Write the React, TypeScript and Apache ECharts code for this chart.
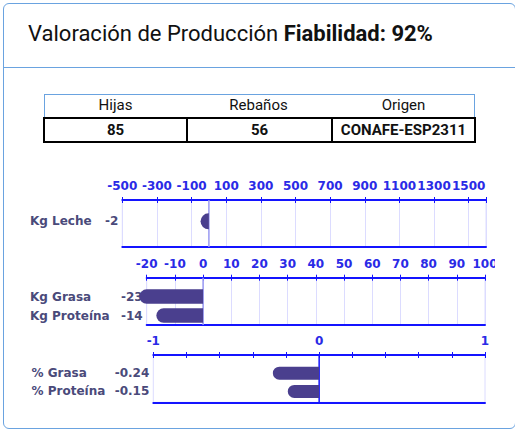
import React, { useEffect, useRef } from "react";
import * as echarts from "echarts";

// ---- data ----
const titleText = "Valoración de Producción ";
const titleBold = "Fiabilidad: 92%";
const tableHeaders = ["Hijas", "Rebaños", "Origen"];
const tableValues = ["85", "56", "CONAFE-ESP2311"];

const lecheNames = ["Kg Leche"];
const lecheValues = [-2];
const lecheMin = -500;
const lecheMax = 1600;
const lecheStep = 200;

const kgNames = ["Kg Grasa", "Kg Proteína"];
const kgValues = [-23, -14];
const kgMin = -20;
const kgMax = 100;
const kgStep = 10;

const pctNames = ["% Grasa", "% Proteína"];
const pctValues = [-0.24, -0.15];
const pctMin = -1;
const pctMax = 1;
const pctStep = 0.2;

// ---- style ----
const BLUE = "#1414ff";
const TICK_TEXT = "#2a2ae6";
const FAINT = "#dcdcff";
const BAR = "#4a3f8e";
const CAT_TEXT = "#4a4a7a";
const FONT = "DejaVu Sans";

const CHART_TOP = 150;

type Sec = {
  left: number;
  top: number;
  width: number;
  height: number;
  names: string[];
  values: number[];
  min: number;
  max: number;
  step: number;
  shift: number; // axis offset so min is a multiple of interval
  yMax: number;
  barH: number;
  split: boolean;
  zeroColor: string;
  nameMargin: number;
  labelFmt: (u: number) => string;
  valueFmt: (v: number) => string;
};

export default function App() {
  const ref = useRef<HTMLDivElement>(null);

  useEffect(() => {
    document.body.style.margin = "0";
    if (!ref.current) return;
    const chart = echarts.init(ref.current, undefined, { renderer: "svg" });

    const secs: Sec[] = [
      {
        left: 122.3,
        top: 200 - CHART_TOP,
        width: 363.7,
        height: 47,
        names: lecheNames,
        values: lecheValues,
        min: lecheMin,
        max: lecheMax,
        step: lecheStep,
        shift: -lecheMin,
        yMax: 1.2,
        barH: 16,
        split: true,
        zeroColor: "#9a9af2",
        nameMargin: 92.3,
        labelFmt: (u) => (u - 500 > 1500 ? "" : String(u - 500)),
        valueFmt: (v) => String(v),
      },
      {
        left: 146.7,
        top: 277.7 - CHART_TOP,
        width: 338.3,
        height: 47.3,
        names: kgNames,
        values: kgValues,
        min: kgMin,
        max: kgMax,
        step: kgStep,
        shift: 0,
        yMax: 1.5,
        barH: 14.5,
        split: true,
        zeroColor: "#9a9af2",
        nameMargin: 116.7,
        labelFmt: (u) => String(u),
        valueFmt: (v) => String(v),
      },
      {
        left: 153.3,
        top: 355 - CHART_TOP,
        width: 331.7,
        height: 47.3,
        names: pctNames,
        values: pctValues,
        min: pctMin,
        max: pctMax,
        step: pctStep,
        shift: 0,
        yMax: 1.6,
        barH: 13,
        split: false,
        zeroColor: BLUE,
        nameMargin: 121.8,
        labelFmt: (u) => (Math.abs(u - Math.round(u)) < 1e-9 ? String(Math.round(u)) : ""),
        valueFmt: (v) => v.toFixed(2),
      },
    ];

    const grid: any[] = [];
    const xAxis: any[] = [];
    const yAxis: any[] = [];
    const series: any[] = [];

    secs.forEach((s, i) => {
      grid.push({
        left: s.left,
        top: s.top,
        width: s.width,
        height: s.height,
        show: true,
        borderColor: FAINT,
        borderWidth: 1,
        backgroundColor: "transparent",
        containLabel: false,
        outerBoundsMode: "none",
      });
      const axMin = s.min + s.shift;
      const axMax = s.max + s.shift;
      const mainX = xAxis.length;
      // main top axis
      xAxis.push({
        type: "value",
        gridIndex: i,
        position: "top",
        min: axMin,
        max: axMax,
        interval: s.step,
        axisLine: { show: true, onZero: false, lineStyle: { color: BLUE, width: 2 } },
        axisTick: { show: true, inside: false, length: 3, lineStyle: { color: BLUE, width: 1 } },
        axisLabel: {
          show: true,
          margin: 8,
          color: TICK_TEXT,
          fontFamily: FONT,
          fontWeight: "bold",
          fontSize: 12,
          formatter: s.labelFmt,
          showMinLabel: true,
          showMaxLabel: true,
        },
        splitLine: { show: s.split, lineStyle: { color: FAINT, width: 1 } },
      });
      // inner ticks
      xAxis.push({
        type: "value",
        gridIndex: i,
        position: "top",
        min: axMin,
        max: axMax,
        interval: s.step,
        axisLine: { show: false, onZero: false },
        axisTick: { show: true, inside: true, length: 3, lineStyle: { color: BLUE, width: 1 } },
        axisLabel: { show: false },
        splitLine: { show: false },
      });
      // bottom line
      xAxis.push({
        type: "value",
        gridIndex: i,
        position: "bottom",
        min: axMin,
        max: axMax,
        interval: s.step,
        axisLine: { show: true, onZero: false, lineStyle: { color: BLUE, width: 2 } },
        axisTick: { show: false },
        axisLabel: { show: false },
        splitLine: { show: false },
      });
      const mainY = yAxis.length;
      // names axis
      yAxis.push({
        type: "value",
        gridIndex: i,
        position: "left",
        inverse: true,
        min: -1,
        max: s.yMax,
        interval: 1,
        axisLine: { show: false },
        axisTick: { show: false },
        splitLine: { show: false },
        axisLabel: {
          show: true,
          align: "left",
          margin: s.nameMargin,
          color: CAT_TEXT,
          fontFamily: FONT,
          fontWeight: "bold",
          fontSize: 12,
          formatter: (v: number) => (Number.isInteger(v) && v >= 0 && v < s.names.length ? s.names[v] : ""),
        },
      });
      // values axis
      yAxis.push({
        type: "value",
        gridIndex: i,
        position: "left",
        inverse: true,
        min: -1,
        max: s.yMax,
        interval: 1,
        axisLine: { show: false },
        axisTick: { show: false },
        splitLine: { show: false },
        axisLabel: {
          show: true,
          align: "right",
          margin: 4,
          color: CAT_TEXT,
          fontFamily: FONT,
          fontWeight: "bold",
          fontSize: 12,
          formatter: (v: number) =>
            Number.isInteger(v) && v >= 0 && v < s.values.length ? s.valueFmt(s.values[v]) : "",
        },
      });

      const data = s.values.map((v, k) => [v + s.shift, k]);
      series.push({
        type: "custom",
        xAxisIndex: mainX,
        yAxisIndex: mainY,
        clip: false,
        data,
        renderItem: (params: any, api: any) => {
          const u = api.value(0);
          const k = api.value(1);
          const base = s.shift;
          const uc = Math.max(u, axMin);
          const p0 = api.coord([base, k]);
          const p1 = api.coord([uc, k]);
          const h = s.barH;
          const r = h / 2;
          const children: any[] = [];
          if (params.dataIndex === 0) {
            const cs = params.coordSys;
            children.push({
              type: "line",
              shape: { x1: p0[0], y1: cs.y, x2: p0[0], y2: cs.y + cs.height },
              style: { stroke: s.zeroColor, lineWidth: 1.5 },
            });
          }
          let xl: number, w: number, rad: number[];
          if (u < base) {
            xl = p1[0] - r;
            w = p0[0] - xl;
            rad = [r, 0, 0, r];
          } else {
            xl = p0[0];
            w = p1[0] + r - p0[0];
            rad = [0, r, r, 0];
          }
          children.push({
            type: "rect",
            shape: { x: xl, y: p0[1] - h / 2, width: w, height: h, r: rad },
            style: { fill: BAR },
          });
          return { type: "group", children };
        },
      });
    });

    chart.setOption({
      animation: false,
      grid,
      xAxis,
      yAxis,
      series,
    });

    return () => chart.dispose();
  }, []);

  const cardBorder = "1.5px solid #6aa3e0";

  return (
    <div style={{ position: "absolute", left: 0, top: 0, width: 515, height: 431, overflow: "hidden", background: "#fff" }}>
      <div
        style={{
          position: "absolute",
          left: 3,
          top: 3,
          width: 513,
          height: 426,
          boxSizing: "border-box",
          border: cardBorder,
          borderRadius: 6,
        }}
      />
      <div
        style={{
          position: "absolute",
          left: 3,
          top: 67,
          width: 513,
          height: 0,
          borderTop: cardBorder,
        }}
      />
      <div
        style={{
          position: "absolute",
          left: 28,
          top: 19,
          height: 30,
          lineHeight: "30px",
          fontFamily: "Roboto",
          fontSize: 22,
          color: "#111",
          whiteSpace: "nowrap",
        }}
      >
        {titleText}
        <span style={{ fontWeight: "bold" }}>{titleBold}</span>
      </div>
      {/* table */}
      <div
        style={{
          position: "absolute",
          left: 44,
          top: 94,
          width: 431,
          height: 24,
          boxSizing: "border-box",
          borderTop: cardBorder,
          borderLeft: cardBorder,
          borderRight: cardBorder,
          display: "grid",
          gridTemplateColumns: "141px 145px 145px",
          fontFamily: "Roboto",
          fontSize: 15,
          color: "#111",
        }}
      >
        {tableHeaders.map((t, i) => (
          <div key={i} style={{ textAlign: "center", lineHeight: "21px" }}>
            {t}
          </div>
        ))}
      </div>
      <div
        style={{
          position: "absolute",
          left: 43,
          top: 117,
          width: 433,
          height: 26,
          boxSizing: "border-box",
          border: "2px solid #000",
          display: "grid",
          gridTemplateColumns: "141px 145px 143px",
          fontFamily: "Roboto",
          fontSize: 15,
          fontWeight: "bold",
          color: "#111",
        }}
      >
        {tableValues.map((t, i) => (
          <div
            key={i}
            style={{
              textAlign: "center",
              lineHeight: "22px",
              borderLeft: i > 0 ? "2px solid #000" : "none",
            }}
          >
            {t}
          </div>
        ))}
      </div>
      <div ref={ref} style={{ position: "absolute", left: 0, top: CHART_TOP, width: 495, height: 270 }} />
    </div>
  );
}
